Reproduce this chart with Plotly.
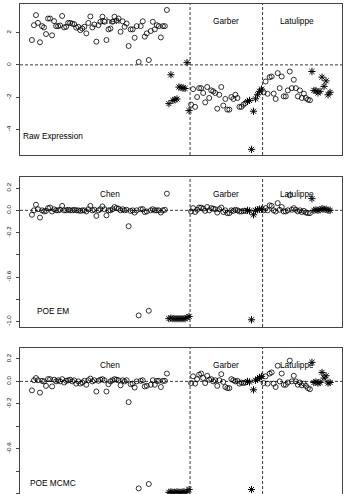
import numpy as np
import plotly.graph_objects as go

# ---- data (index order: Chen, Garber, Latulippe; circles then stars in each) ----
raw_chen_c = [1.54, 2.46, 3.08, 2.6, 1.4, 2.4, 2.32, 1.91, 2.87, 2.87, 1.83, 2.71, 2.4, 2.4, 2.44, 3.03,
              2.32, 2.36, 2.6, 2.6, 2.55, 2.52, 2.3, 2.36, 2.15, 2.25, 2.36, 1.95, 2.6, 3.0, 2.32, 2.5,
              1.44, 2.46, 2.67, 2.98, 2.67, 1.54, 2.2, 2.25, 2.67, 2.98, 2.75, 2.87, 2.05, 2.7, 2.36, 2.56,
              1.17, 2.2, 2.2, 1.68, 2.4, 0.18, 2.4, 2.7, 1.75, 1.95, 0.3, 2.1, 2.67, 2.2, 2.46, 2.4,
              1.7, 2.4, 2.4, 3.4]
raw_chen_s = [-2.4, -0.61, -2.2, -2.15, -2.11, -1.37, -1.4, -1.43, -1.46, 0.14, -2.83]
em_chen_c = [-0.04, 0.0, 0.05, 0.01, -0.065, 0.0, -0.01, -0.005, 0.02, 0.025, -0.01, 0.01, 0.0, 0.0, 0.005, 0.04,
             0.0, 0.0, 0.005, 0.0, 0.0, 0.005, 0.0, 0.0, -0.005, 0.0, 0.0, -0.01, 0.01, 0.04, 0.0, 0.005,
             -0.05, 0.0, 0.01, 0.035, 0.01, -0.045, 0.0, 0.0, 0.01, 0.03, 0.02, 0.015, 0.0, 0.01, 0.0, 0.005,
             -0.143, -0.005, 0.0, -0.02, 0.0, -0.946, 0.01, 0.01, -0.015, -0.01, -0.904, 0.0, 0.01, 0.0, 0.0, 0.0,
             -0.02, 0.0, 0.005, 0.15]
em_chen_s = [-0.975, -0.97, -0.975, -0.975, -0.975, -0.975, -0.975, -0.975, -0.975, -0.965, -0.955]
mc_chen_c = [-0.08, 0.01, 0.03, 0.01, -0.1, 0.005, 0.0, -0.04, 0.02, 0.02, -0.045, 0.015, 0.0, 0.01, 0.0, 0.02,
             -0.01, 0.005, 0.01, 0.015, 0.0, 0.01, -0.02, 0.0, -0.02, -0.01, 0.005, -0.03, 0.01, 0.025, 0.0, 0.01,
             -0.09, 0.005, 0.015, 0.02, 0.01, -0.09, -0.025, 0.0, 0.01, 0.02, 0.015, 0.01, -0.035, 0.01, 0.0, 0.01,
             -0.185, -0.025, -0.02, -0.055, 0.0, -0.955, 0.005, 0.01, -0.045, -0.04, -0.916, -0.03, 0.01, -0.03, 0.005, 0.005,
             -0.05, 0.005, 0.005, 0.07]
mc_chen_s = [-0.99, -0.985, -0.99, -0.99, -0.985, -0.99, -0.99, -0.985, -0.99, -0.98, -0.965]

raw_garber_c = [-2.46, -1.5, -2.6, -1.99, -1.44, -1.44, -1.74, -2.32, -1.37, -2.05, -1.58, -1.64, -1.74, -2.71,
                -1.85, -1.37, -2.52, -2.11, -2.77, -2.77, -1.99, -2.11, -1.85, -2.05, -2.6, -2.6, -2.46, -2.36]
raw_garber_s = [-2.26, -2.2, -5.23, -2.87, -2.1, -1.85, -1.64, -1.5]
em_garber_c = [-0.01, 0.02, -0.015, 0.005, 0.025, 0.025, 0.015, -0.005, 0.03, 0.0, 0.02, 0.015, 0.01, -0.02,
               0.01, 0.025, -0.015, 0.0, -0.025, -0.025, 0.0, -0.005, 0.005, 0.0, -0.01, -0.01, -0.005, -0.005]
em_garber_s = [0.0, -0.005, -0.985, -0.04, 0.0, 0.005, 0.01, 0.01]
mc_garber_c = [-0.015, 0.045, -0.02, 0.02, 0.06, 0.07, 0.03, -0.015, 0.05, 0.015, 0.02, 0.0, 0.01, -0.04,
               0.01, 0.065, -0.005, -0.05, -0.06, -0.06, 0.02, 0.01, 0.0, 0.005, -0.02, -0.01, -0.015, -0.01]
mc_garber_s = [0.0, -0.005, -0.965, -0.075, 0.01, 0.02, 0.035, 0.045]

raw_lat_c = [-1.7, -1.03, -1.79, -0.76, -0.72, -1.78, -2.11, -0.51, -1.44, -0.72, -1.95, -1.95, -1.58, -0.41,
             -1.44, -0.92, -1.44, -1.95, -1.58, -2.05, -1.78, -2.05, -2.15, -2.19]
raw_lat_s = [-0.41, -1.58, -1.6, -1.74, -1.64, -0.76, -1.33, -0.99, -1.85, -1.7]
em_lat_c = [0.0, 0.02, 0.0, 0.045, 0.04, 0.0, -0.01, 0.065, 0.005, 0.03, -0.01, -0.01, 0.0, 0.135,
            0.005, 0.02, 0.005, -0.01, 0.0, -0.015, -0.005, -0.02, -0.025, -0.025]
em_lat_s = [0.105, 0.0, 0.005, 0.0, 0.005, 0.015, 0.01, 0.01, 0.0, 0.0]
mc_lat_c = [-0.015, 0.045, -0.02, 0.07, 0.08, -0.02, -0.05, 0.14, 0.0, 0.07, -0.03, -0.03, -0.01, 0.185,
            0.0, 0.05, 0.0, -0.03, -0.01, -0.035, -0.02, -0.04, -0.06, -0.07]
mc_lat_s = [0.17, -0.01, -0.005, -0.015, -0.01, 0.08, 0.03, 0.05, -0.015, -0.01]

dataset_names = ["Chen", "Garber", "Latulippe"]
panel_titles = ["Raw Expression", "POE EM", "POE MCMC"]

panels = [
    [(raw_chen_c, raw_chen_s), (raw_garber_c, raw_garber_s), (raw_lat_c, raw_lat_s)],
    [(em_chen_c, em_chen_s), (em_garber_c, em_garber_s), (em_lat_c, em_lat_s)],
    [(mc_chen_c, mc_chen_s), (mc_garber_c, mc_garber_s), (mc_lat_c, mc_lat_s)],
]

W, H = 346, 494
fig = go.Figure()

# index positions
sizes = [len(c) + len(s) for c, s in panels[0]]
N = sum(sizes)
bounds = np.cumsum(sizes)[:-1] + 0.5
starts = np.concatenate([[0], np.cumsum(sizes)[:-1]])
centers = [starts[i] + sizes[i] / 2 + 0.5 for i in range(3)]

pad = 0.04 * (N - 1)
xr = [1 - pad, N + pad]

# domains (paper)
x_dom = [20 / W, 342 / W]
y_doms = [[(H - 155) / H, (H - 4) / H], [(H - 327) / H, (H - 177) / H], [0.0, (H - 348) / H]]
y_ranges = [[-5.58, 3.77], [-1.05, 0.30], [-1.005, 0.298]]
tickvals = [[-4, -2, 0, 2], [-1.0, -0.8, -0.6, -0.4, -0.2, 0.0, 0.2], [-1.0, -0.8, -0.6, -0.4, -0.2, 0.0, 0.2]]
ticktext = [["-4", "-2", "0", "2"], ["-1.0", "", "-0.6", "", "-0.2", "0.0", "0.2"],
            ["-1.0", "", "-0.6", "", "-0.2", "0.0", "0.2"]]
label_y = [2.7, 0.145, 0.148]
title_pos = [(-4.4, -4.43), (2.5, -0.904), (-0.9, -0.907)]

font = dict(family="Liberation Sans, Arial, sans-serif", color="black")

for p in range(3):
    xs_c, ys_c, xs_s, ys_s = [], [], [], []
    for g in range(3):
        c, s = panels[p][g]
        base = starts[g] + 1
        xs_c += list(range(base, base + len(c)))
        ys_c += list(c)
        xs_s += list(range(base + len(c), base + len(c) + len(s)))
        ys_s += list(s)
    xa = "x" if p == 0 else f"x{p+1}"
    ya = "y" if p == 0 else f"y{p+1}"
    fig.add_trace(go.Scatter(x=xs_c, y=ys_c, mode="markers", xaxis=xa, yaxis=ya,
                             marker=dict(symbol="circle-open", size=5, color="black", line=dict(width=0.8)),
                             showlegend=False, cliponaxis=True))
    fig.add_trace(go.Scatter(x=xs_s, y=ys_s, mode="markers", xaxis=xa, yaxis=ya,
                             marker=dict(symbol="asterisk-open", size=6, color="black", line=dict(width=1)),
                             showlegend=False, cliponaxis=True))
    # dashed reference lines
    fig.add_shape(type="line", xref=f"{xa} domain", yref=ya, x0=0, x1=1, y0=0, y1=0,
                  line=dict(color="#222", width=0.9, dash="3px,2px"), layer="below")
    for b in bounds:
        fig.add_shape(type="line", xref=xa, yref=f"{ya} domain", x0=b, x1=b, y0=0, y1=1,
                      line=dict(color="#222", width=0.9, dash="3px,2px"), layer="below")
    for g in range(3):
        fig.add_annotation(x=centers[g], y=label_y[p], xref=xa, yref=ya, text=dataset_names[g],
                           showarrow=False, font=dict(size=8.3, **font))
    fig.add_annotation(x=title_pos[p][0], y=title_pos[p][1], xref=xa, yref=ya, text=panel_titles[p],
                       showarrow=False, xanchor="left", font=dict(size=8.3, **font))

    xkey = "xaxis" if p == 0 else f"xaxis{p+1}"
    ykey = "yaxis" if p == 0 else f"yaxis{p+1}"
    if p < 2:
        xaxis = dict(domain=x_dom, range=xr, anchor=ya, showticklabels=False, ticks="",
                     showgrid=False, zeroline=False, showline=True, mirror=True, linecolor="#444", linewidth=1)
    else:
        xaxis = dict(domain=x_dom, range=xr, anchor=ya, side="top", showticklabels=False, ticks="",
                     showgrid=False, zeroline=False, showline=True, mirror=False, linecolor="#444", linewidth=1)
    yaxis = dict(domain=y_doms[p], range=y_ranges[p], anchor=xa, tickmode="array",
                 tickvals=tickvals[p], ticktext=ticktext[p], tickangle=-90, ticks="outside", ticklen=3,
                 tickcolor="#444", tickfont=dict(size=6.2, **font), showgrid=False, zeroline=False,
                 showline=True, mirror=True, linecolor="#444", linewidth=1, ticklabelstandoff=3)
    fig.layout[xkey] = xaxis
    fig.layout[ykey] = yaxis

fig.update_layout(width=W, height=H, margin=dict(l=0, r=0, t=0, b=0),
                  paper_bgcolor="white", plot_bgcolor="white")
fig.write_html("out.html")
